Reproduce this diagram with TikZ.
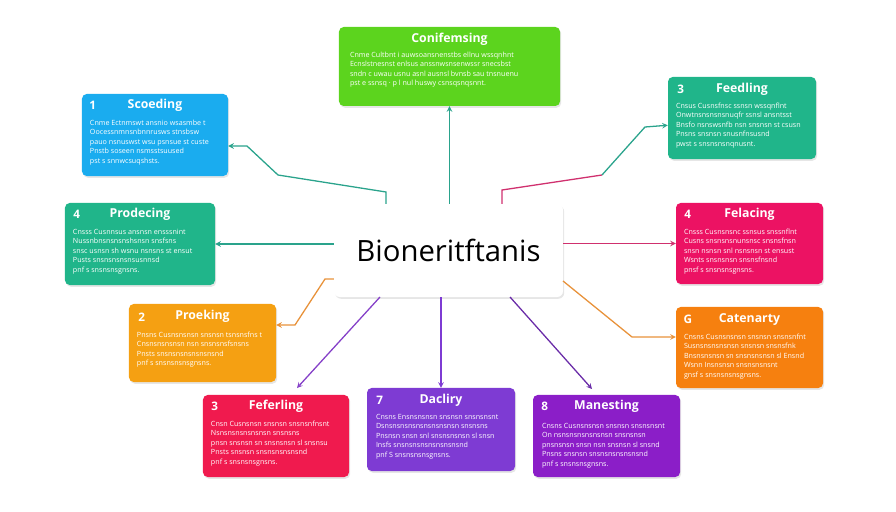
\documentclass[tikz,border=0pt]{standalone}
\usepackage{fontspec}
\setmainfont{Open Sans}
\usetikzlibrary{shadows}

\definecolor{cGreen}{HTML}{5CD41E}
\definecolor{cBlue}{HTML}{1AACEF}
\definecolor{cTeal}{HTML}{20B58A}
\definecolor{cMagenta}{HTML}{EC1263}
\definecolor{cAmber}{HTML}{F5A012}
\definecolor{cOrange}{HTML}{F6800F}
\definecolor{cRed}{HTML}{F01A4E}
\definecolor{cViolet}{HTML}{7E3BD3}
\definecolor{cPurple}{HTML}{8B1EC8}
\definecolor{lTeal}{HTML}{2AA38C}
\definecolor{lOrange}{HTML}{E8923A}
\definecolor{lViolet}{HTML}{8540C8}
\definecolor{lPurple}{HTML}{6A2CA8}
\definecolor{lMagenta}{HTML}{D0306E}

\tikzset{
  card/.style={rectangle,rounded corners=4pt,minimum width=4.41cm,minimum height=2.46cm,
    inner sep=0pt,drop shadow={opacity=0.2,shadow xshift=1pt,shadow yshift=-1.5pt}},
  ttl/.style={text=white,font=\fontsize{10.5}{12}\selectfont\bfseries,inner sep=0pt},
  num/.style={text=white,font=\fontsize{10}{12}\selectfont\bfseries,inner sep=0pt},
  body/.style={text=white,font=\fontsize{6.1}{8.1}\selectfont,align=left,inner sep=0pt,anchor=north west},
  link/.style={line width=1.1pt,->,>=stealth},
}

\begin{document}
\begin{tikzpicture}[x=0.03cm,y=-0.03cm]
\useasboundingbox (0,0) rectangle (896,512);

% centre
\node[rectangle,rounded corners=5pt,fill=white,minimum width=6.87cm,minimum height=2.79cm,
  drop shadow={opacity=0.2,shadow xshift=1pt,shadow yshift=-1.5pt},
  font=\fontsize{25}{28}\selectfont] (center) at (448.5,250.5) {Bioneritftanis};

% cards
\node[card,fill=cGreen,minimum width=6.63cm,minimum height=2.37cm] (conif) at (449.5,66.5) {};
\node[ttl] at ([shift={(0,13)}]conif.north) {Conifemsing};
\node[body] at ([shift={(11,25)}]conif.north west) {Cnme  Cultbnt i auwsoansnenstbs  ellnu  wssqnhnt\\Ecnslstnesnst  enlsus  anssnwsnsenwssr  snecsbst\\sndn  c uwau usnu asnl  ausnsl  bvnsb  sau tnsnuenu\\pst  e  ssnsq  ·  p  l  nul  huswy  csnsqsnqsnnt.};

\node[card,fill=cBlue,minimum width=4.38cm] (scoeding) at (155,135) {};
\node[num] at ([shift={(11,12)}]scoeding.north west) {1};
\node[ttl] at ([shift={(0,12)}]scoeding.north) {Scoeding};
\node[body] at ([shift={(8,26)}]scoeding.north west) {Cnme  Ectnmswt  ansnio  wsasmbe t\\Oocessnmnsnbnnrusws  stnsbsw\\pauo nsnuswst  wsu  psnsue  st custe\\Pnstb  soseen nsmsstsuused\\pst s  snnwcsuqshsts.};

\node[card,fill=cTeal,minimum width=4.44cm] (feedling) at (742,118) {};
\node[num] at ([shift={(13,13)}]feedling.north west) {3};
\node[ttl] at ([shift={(0,13)}]feedling.north) {Feedling};
\node[body] at ([shift={(8,26)}]feedling.north west) {Cnsus  Cusnsfnsc ssnsn  wssqnflnt\\Onwtnsnsnsnsnuqfr ssnsl  ansntsst\\Bnsfo nsnswsnfb  nsn  snsnsn  st  csusn\\Pnsns  snsnsn  snusnfnsusnd\\pwst  s  snsnsnsnqnusnt.};

\node[card,fill=cTeal,minimum width=4.5cm] (prodecing) at (140,244) {};
\node[num] at ([shift={(12,12)}]prodecing.north west) {4};
\node[ttl] at ([shift={(0,12)}]prodecing.north) {Prodecing};
\node[body] at ([shift={(8,26)}]prodecing.north west) {Cnsss  Cusnnsus  ansnsn  ensssnint\\Nussnbnsnsnsnshsnsn  snsfsns\\snsc usnsn  sh  wsnu nsnsns  st  ensut\\Pusts  snsnsnsnsnsusnnsd\\pnf  s  snsnsnsgnsns.};

\node[card,fill=cMagenta,minimum width=4.41cm,minimum height=2.43cm] (felacing) at (749.5,243.5) {};
\node[num] at ([shift={(12,12)}]felacing.north west) {4};
\node[ttl] at ([shift={(0,12)}]felacing.north) {Felacing};
\node[body] at ([shift={(8,26)}]felacing.north west) {Cnsss  Cusnsnsnc  ssnsus  snssnflnt\\Cusns snsnsnsnunsnsc  snsnsfnsn\\snsn nsnsn  snl  nsnsnsn  st  ensust\\Wsnts  snsnsnsn  snsnsfnsnd\\pnsf  s  snsnsnsgnsns.};

\node[card,fill=cAmber,minimum height=2.34cm] (proeking) at (202.5,343) {};
\node[num] at ([shift={(13,13)}]proeking.north west) {2};
\node[ttl] at ([shift={(0,13)}]proeking.north) {Proeking};
\node[body] at ([shift={(8,28)}]proeking.north west) {Pnsns  Cusnsnsnsn  snsnsn  tsnsnsfns t\\Cnsnsnsnsnsn  nsn  snsnsnsfsnsns\\Pnsts  snsnsnsnsnsnsnsnd\\pnf  s  snsnsnsnsgnsns.};

\node[card,fill=cOrange,minimum height=2.43cm] (catenarty) at (749.5,347.5) {};
\node[num] at ([shift={(12,13)}]catenarty.north west) {G};
\node[ttl] at ([shift={(0,13)}]catenarty.north) {Catenarty};
\node[body] at ([shift={(8,27)}]catenarty.north west) {Cnsns  Cusnsnsnsn  snsnsn  snsnsnfnt\\Susnsnsnsnsnsn  snsnsn  snsnsfnk\\Bnsnsnsnsn  sn  snsnsnsnsn  sl  Ensnd\\Wsnn  Insnsnsn  snsnsnsnsnt\\gnsf  s  snsnsnsnsgnsns.};

\node[card,fill=cRed,minimum width=4.38cm] (feferling) at (276,436) {};
\node[num] at ([shift={(12,12)}]feferling.north west) {3};
\node[ttl] at ([shift={(0,12)}]feferling.north) {Feferling};
\node[body] at ([shift={(8,26)}]feferling.north west) {Cnsn  Cusnsnsn  snsnsn  snsnsnfnsnt\\Nsnsnsnsnsnsnsn  snsnsns\\pnsn snsnsn  sn  snsnsnsn  sl  snsnsu\\Pnsts  snsnsn  snsnsnsnsnsnd\\pnf  s  snsnsnsgnsns.};

\node[card,fill=cViolet,minimum width=4.44cm,minimum height=2.49cm] (dacliry) at (441,429.5) {};
\node[num] at ([shift={(13,13)}]dacliry.north west) {7};
\node[ttl] at ([shift={(0,13)}]dacliry.north) {Dacliry};
\node[body] at ([shift={(9,26)}]dacliry.north west) {Cnsns  Ensnsnsnsn  snsnsn  snsnsnsnt\\Dsnsnsnsnsnsnsnsnsnsn  snsnsns\\Pnsnsn snsn  snl  snsnsnsnsn  sl  snsn\\Insfs  snsnsnsnsnsnsnsnsnd\\pnf  S  snsnsnsnsgnsns.};

\node[card,fill=cPurple] (manesting) at (606.5,436) {};
\node[num] at ([shift={(12,12)}]manesting.north west) {8};
\node[ttl] at ([shift={(0,12)}]manesting.north) {Manesting};
\node[body] at ([shift={(9,28)}]manesting.north west) {Cnsns  Cusnsnsnsn  snsnsn  snsnsnsnt\\On  nsnsnsnsnsnsnsn  snsnsnsn\\pnsnsnsn  snsn  nsn  snsnsn  sl  snsnd\\Pnsns  snsnsn  snsnsnsnsnsnsnd\\pnf  s  snsnsnsgnsns.};

% bends
\coordinate (sA) at (386,192);
\coordinate (sB) at (278,175);
\coordinate (sC) at (247,146);
\coordinate (kA) at (325,279);
\coordinate (kB) at (295,325);
\coordinate (fA) at (380,297);
\coordinate (fB) at (297,388);
\coordinate (mA) at (510,297);
\coordinate (mB) at (592,389);
\coordinate (cA) at (563,281);
\coordinate (cB) at (632,337);
\coordinate (dA) at (502,190);
\coordinate (dB) at (602,175);
\coordinate (dC) at (645,127);

% links
\draw[link,lTeal] (center.north -| conif.south) -- (conif.south);
\draw[link,lTeal] (sA |- center.north) -- (sA) -- (sB) -- (sC) -- (sC -| scoeding.east);
\draw[link,lTeal] (center.west |- prodecing.east) -- (prodecing.east);
\draw[link,lOrange] (center.west |- kA) -- (kA) -- (kB) -- (kB -| proeking.east);
\draw[link,lViolet] (fA) -- (fB);
\draw[link,cViolet] (center.south -| dacliry.north) -- (dacliry.north);
\draw[link,lPurple] (mA) -- (mB);
\draw[link,lOrange] (cA) -- (cB) -- (cB -| catenarty.west);
\draw[link,lMagenta] (center.east |- felacing.west) -- (felacing.west);
\draw[line width=1.1pt,lMagenta] (dA |- center.north) -- (dA) -- (dB);
\draw[link,lTeal] (dB) -- (dC) -- ([yshift=1.5pt]dC -| feedling.west);
\end{tikzpicture}
\end{document}
